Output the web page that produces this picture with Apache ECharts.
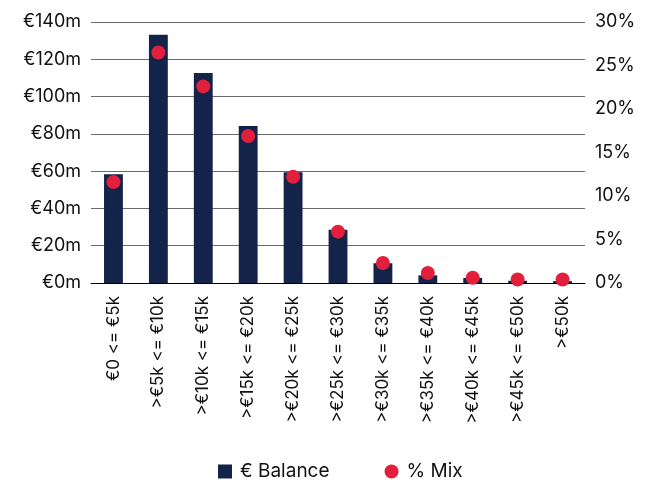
<!DOCTYPE html>
<html>
<head>
<meta charset="utf-8">
<style>
  html, body { margin: 0; padding: 0; background: #ffffff; }
  #chart { width: 654px; height: 489px; }
</style>
<script src="https://cdn.jsdelivr.net/npm/echarts@6/dist/echarts.min.js"></script>
</head>
<body>
<div id="chart"></div>
<script>
// Balance bands
const categories = [
  '€0 <= €5k', '>€5k <= €10k', '>€10k <= €15k', '>€15k <= €20k',
  '>€20k <= €25k', '>€25k <= €30k', '>€30k <= €35k', '>€35k <= €40k',
  '>€40k <= €45k', '>€45k <= €50k', '>€50k'
];
// € Balance per band, in millions
const balance = [58.4, 133.2, 112.6, 84.2, 59.4, 28.5, 10.6, 4.1, 2.7, 1.2, 1.0];
// Share of total balance, in percent
const mix = [11.6, 26.5, 22.6, 16.9, 12.2, 5.9, 2.3, 1.15, 0.6, 0.4, 0.4];

const balanceName = '€ Balance';
const mixName = '% Mix';

const FONT = 'Inter, "Liberation Sans", Arial, sans-serif';
const TEXT = '#111111';

const chart = echarts.init(document.getElementById('chart'), null, { renderer: 'canvas' });

chart.setOption({
  animation: false,
  backgroundColor: '#ffffff',
  textStyle: { fontFamily: FONT, color: TEXT },
  grid: { left: 91, right: 69, top: 22, bottom: 206, containLabel: false },
  legend: {
    top: 462,
    left: 218,
    padding: 0,
    itemGap: 55,
    itemWidth: 14,
    itemHeight: 14,
    textStyle: { fontFamily: FONT, fontSize: 19, color: TEXT, padding: [0, 0, 0, 3] },
    data: [
      { name: balanceName, icon: 'rect' },
      { name: mixName, icon: 'circle' }
    ]
  },
  xAxis: {
    type: 'category',
    data: categories,
    axisTick: { show: false },
    axisLine: { show: true, lineStyle: { color: '#000000', width: 1 } },
    axisLabel: {
      rotate: 90,
      interval: 0,
      margin: 13,
      fontFamily: FONT,
      fontSize: 17,
      color: TEXT
    }
  },
  yAxis: [
    {
      type: 'value',
      min: 0,
      max: 140,
      interval: 20,
      axisLine: { show: false },
      axisTick: { show: false },
      splitLine: { show: true, lineStyle: { color: '#6a6a6a', width: 1 } },
      axisLabel: {
        formatter: v => '€' + v + 'm',
        fontFamily: FONT,
        fontSize: 18,
        color: TEXT,
        margin: 10
      }
    },
    {
      type: 'value',
      min: 0,
      max: 30,
      interval: 5,
      position: 'right',
      axisLine: { show: false },
      axisTick: { show: false },
      splitLine: { show: false },
      axisLabel: {
        formatter: v => v + '%',
        fontFamily: FONT,
        fontSize: 18,
        color: TEXT,
        margin: 10
      }
    }
  ],
  series: [
    {
      name: balanceName,
      type: 'bar',
      yAxisIndex: 0,
      data: balance,
      barWidth: '42%',
      itemStyle: { color: '#13234a' }
    },
    {
      name: mixName,
      type: 'scatter',
      yAxisIndex: 1,
      data: mix,
      symbol: 'circle',
      symbolSize: 14,
      itemStyle: { color: '#e2203d', opacity: 1 },
      z: 3
    }
  ]
});
</script>
</body>
</html>
